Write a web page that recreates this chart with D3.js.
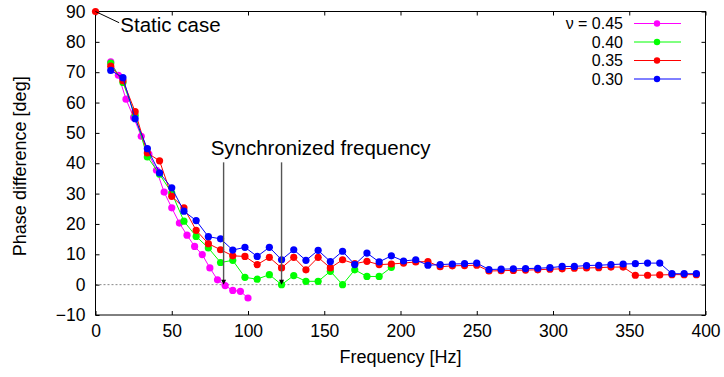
<!DOCTYPE html>
<html>
<head>
<meta charset="utf-8">
<script src="https://cdn.jsdelivr.net/npm/d3@7"></script>
<style>
  body { margin: 0; background: #fff; }
  svg { display: block; font-family: "Liberation Sans", Arial, sans-serif; }
</style>
</head>
<body>
<div id="chart"></div>
<script>
// frequencies for nu = 0.40 / 0.35 / 0.30 (8 Hz step), and 0.45 (5 Hz step)
const freqCoarse = d3.range(10, 395, 8)
const freqFine = d3.range(10, 101, 5)

const nu045 = [73.4, 69.0, 61.1, 55.1, 48.9, 43.0, 37.7, 30.5, 25.3, 20.3, 16.3, 12.6, 9.9, 5.5, 1.6, -0.3, -1.9, -2.2, -4.4]
const nu040 = [73.0, 66.6, 55.8, 42.1, 36.4, 30.2, 20.9, 15.9, 12.1, 7.3, 8.0, 2.4, 1.8, 3.3, 0.0, 3.0, 1.1, 1.1, 4.4, 0.0, 4.9, 2.7, 2.7, 5.7]
const nu035 = [72.0, 67.2, 57.0, 43.4, 40.8, 29.1, 25.3, 17.9, 13.5, 11.5, 9.5, 9.3, 6.6, 9.0, 5.5, 9.0, 4.9, 9.0, 5.5, 8.2, 6.9, 7.7, 6.6, 6.8,
  7.1, 7.5, 7.6, 5.9, 6.2, 6.3, 6.4, 4.5, 4.6, 4.7, 4.8, 4.9, 5.1, 5.2, 5.4, 5.5, 5.6, 5.8, 5.8, 3.1, 3.1, 3.2, 3.3, 3.3, 3.3]
const nu030 = [70.6, 68.2, 54.7, 44.8, 36.8, 31.9, 24.2, 21.1, 15.8, 15.1, 11.4, 12.3, 9.3, 12.3, 8.2, 11.5, 8.0, 11.3, 7.6, 11.0, 6.6, 10.4, 7.5, 9.5,
  7.8, 8.2, 6.4, 6.6, 6.8, 6.9, 7.1, 5.0, 5.1, 5.2, 5.3, 5.4, 5.6, 6.0, 6.0, 6.3, 6.4, 6.6, 6.8, 6.9, 7.1, 7.1, 3.6, 3.6, 3.6]

const seriesLabels = ["\u03bd = 0.45", "0.40", "0.35", "0.30"]
const seriesColors = ["#ff00ff", "#00ff00", "#ff0000", "#0000ff"]

const xTicks = [0, 50, 100, 150, 200, 250, 300, 350, 400]
const yTicks = [-10, 0, 10, 20, 30, 40, 50, 60, 70, 80, 90]

const staticCase = { f: 0, v: 90 }
const syncFreqs = [84, 122]

const width = 724
const height = 377
const margins = { left: 95.5, right: 18.5, top: 11.5, bottom: 62 }

const svg = d3.select("#chart").append("svg").attr("width", width).attr("height", height)

const xScale = d3.scaleLinear().domain([0, 400]).range([margins.left, width - margins.right])
const yScale = d3.scaleLinear().domain([-10, 90]).range([height - margins.bottom, margins.top])

const x0 = xScale(0), x1 = xScale(400), y0 = yScale(-10), y1 = yScale(90)

// zero line
svg.append("line")
  .attr("x1", x0).attr("x2", x1)
  .attr("y1", yScale(0)).attr("y2", yScale(0))
  .attr("stroke", "#888").attr("stroke-width", 1).attr("stroke-dasharray", "2,2")

// axes (ticks pointing inward, mirrored)
const tl = 4
const xAxis = d3.axisBottom(xScale).tickValues(xTicks).tickSize(-tl).tickPadding(10)
const yAxis = d3.axisLeft(yScale).tickValues(yTicks).tickSize(-tl).tickPadding(10)
const xAxisTop = d3.axisTop(xScale).tickValues(xTicks).tickSize(-tl).tickFormat("")
const yAxisRight = d3.axisRight(yScale).tickValues(yTicks).tickSize(-tl).tickFormat("")

const gx = svg.append("g").attr("transform", `translate(0,${y0})`).call(xAxis)
const gy = svg.append("g").attr("transform", `translate(${x0},0)`).call(yAxis)
const gxt = svg.append("g").attr("transform", `translate(0,${y1})`).call(xAxisTop)
const gyr = svg.append("g").attr("transform", `translate(${x1},0)`).call(yAxisRight)

;[gx, gy, gxt, gyr].forEach((g) => {
  g.select(".domain").remove()
  g.selectAll("line").attr("stroke", "#000").attr("stroke-width", 1)
  g.selectAll("text").attr("font-size", 17.5).attr("fill", "#000").style("font-family", "Liberation Sans, Arial, sans-serif")
})

svg.append("rect")
  .attr("x", x0).attr("y", y1).attr("width", x1 - x0).attr("height", y0 - y1)
  .attr("fill", "none").attr("stroke", "#000").attr("stroke-width", 1)

// axis titles
svg.append("text")
  .attr("x", (x0 + x1) / 2).attr("y", 363)
  .attr("text-anchor", "middle").attr("font-size", 18)
  .text("Frequency [Hz]")
svg.append("text")
  .attr("transform", `translate(26,${(y0 + y1) / 2 + 3}) rotate(-90)`)
  .attr("text-anchor", "middle").attr("font-size", 18)
  .text("Phase difference [deg]")

// series
const series = [
  { freqs: freqFine, values: nu045 },
  { freqs: freqCoarse, values: nu040 },
  { freqs: freqCoarse, values: nu035 },
  { freqs: freqCoarse, values: nu030 },
]

const line = d3.line().x((d) => xScale(d[0])).y((d) => yScale(d[1]))

series.forEach((s, i) => {
  const pts = s.values.map((v, j) => [s.freqs[j], v])
  const g = svg.append("g")
  g.append("path")
    .attr("d", line(pts))
    .attr("fill", "none").attr("stroke", seriesColors[i]).attr("stroke-width", 1)
  g.selectAll("circle").data(pts).enter().append("circle")
    .attr("cx", (d) => xScale(d[0])).attr("cy", (d) => yScale(d[1]))
    .attr("r", 3.6).attr("fill", seriesColors[i])
})

// static case point
svg.append("circle")
  .attr("cx", xScale(staticCase.f)).attr("cy", yScale(staticCase.v))
  .attr("r", 3.6).attr("fill", "#ff0000")
svg.append("line")
  .attr("x1", xScale(staticCase.f)).attr("y1", yScale(staticCase.v))
  .attr("x2", xScale(15.5)).attr("y2", yScale(86.3))
  .attr("stroke", "#000").attr("stroke-width", 1)
svg.append("text")
  .attr("x", xScale(16.3)).attr("y", yScale(87.5) + 13)
  .attr("font-size", 20.5).text("Static case")

// synchronized frequency arrows
svg.append("text")
  .attr("x", xScale(75.5)).attr("y", yScale(42.8))
  .attr("font-size", 20.5).text("Synchronized frequency")
syncFreqs.forEach((f) => {
  const x = xScale(f)
  svg.append("line")
    .attr("x1", x).attr("x2", x)
    .attr("y1", yScale(40.3)).attr("y2", yScale(0) - 3)
    .attr("stroke", "#555").attr("stroke-width", 1.4)
  svg.append("path")
    .attr("d", `M${x - 2.5},${yScale(0) - 5} L${x + 2.5},${yScale(0) - 5} L${x},${yScale(0)} Z`)
    .attr("fill", "#000")
})

// legend
const legend = svg.append("g")
seriesLabels.forEach((label, i) => {
  const y = 23.5 + i * 18.5
  legend.append("text")
    .attr("x", 623).attr("y", y).attr("dy", "0.35em")
    .attr("text-anchor", "end").attr("font-size", 16)
    .text(label)
  legend.append("line")
    .attr("x1", 634).attr("x2", 681).attr("y1", y).attr("y2", y)
    .attr("stroke", seriesColors[i]).attr("stroke-width", 1)
  legend.append("circle")
    .attr("cx", 657).attr("cy", y).attr("r", 3.2).attr("fill", seriesColors[i])
})
</script>
</body>
</html>
